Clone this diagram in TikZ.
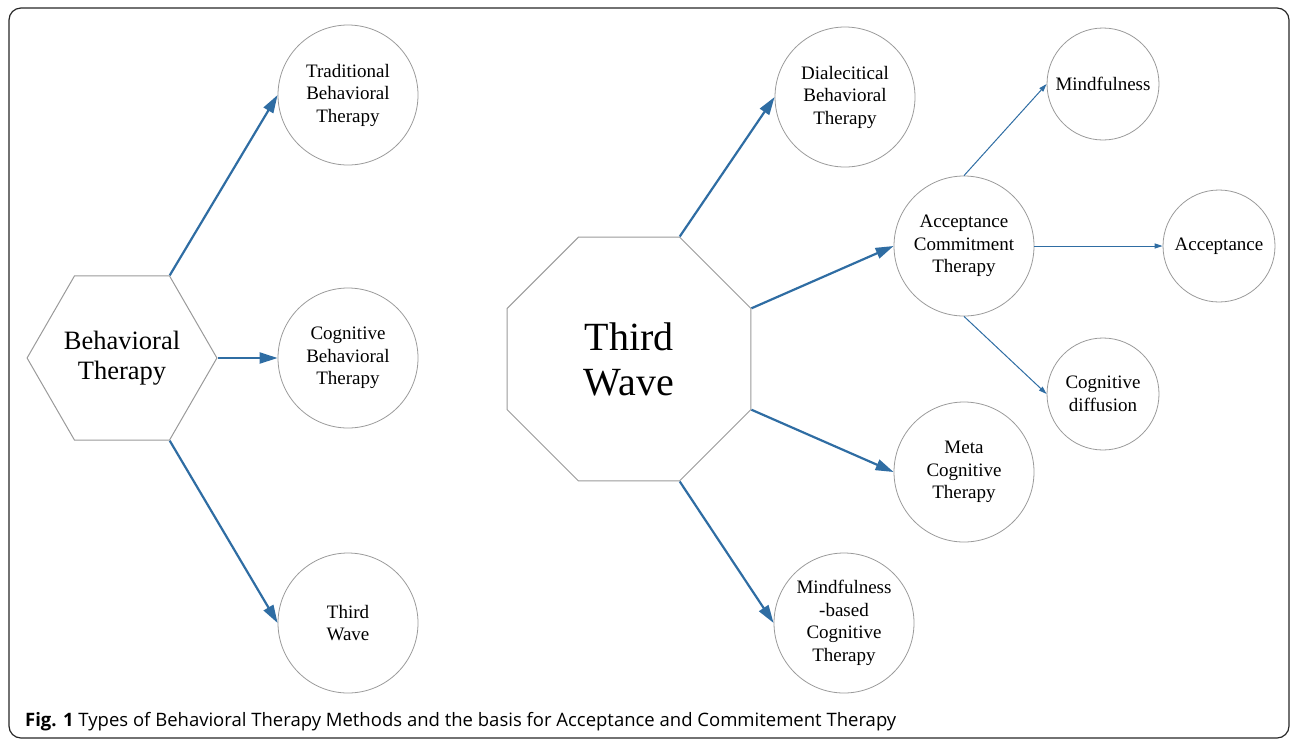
\documentclass[tikz,border=0pt]{standalone}
\usepackage{fontspec}
\setmainfont{Liberation Serif}
\newfontfamily\capfont{Open Sans}
\newfontfamily\shapefont{Liberation Serif}
\usetikzlibrary{shapes.geometric,arrows.meta}
\definecolor{arrblue}{HTML}{2F6DA3}
\definecolor{shapegray}{HTML}{9A9A9A}
\tikzset{
  bubble/.style={circle, draw=shapegray, line width=0.8pt, inner sep=0pt, align=center,
     font=\shapefont\fontsize{19}{22.5}\selectfont},
  bigbubble/.style={bubble, minimum size=140pt},
  smallbubble/.style={bubble, minimum size=112pt},
  thickarrow/.style={draw=arrblue, line width=2.2pt, -{Triangle[length=18pt,width=11pt]}},
  thinarrow/.style={draw=arrblue, line width=1pt, -{Triangle[length=8pt,width=5pt]}},
  poly/.style={regular polygon, draw=shapegray, line width=1pt, inner sep=0pt, align=center}
}
\begin{document}
\begin{tikzpicture}[x=1pt,y=-1pt]
\useasboundingbox (0,0) rectangle (1292,740);
% frame
\draw[line width=1.2pt, rounded corners=12pt, color=black!85] (9,8) rectangle (1289,738);
% left part
\node[poly, regular polygon sides=6, minimum size=184pt,
      font=\shapefont\fontsize{26.5}{30}\selectfont] (bt) at (122,358) {Behavioral\\Therapy};
\node[bigbubble] (tbt) at (348,95) {Traditional\\Behavioral\\Therapy};
\node[bigbubble] (cbt) at (348,358) {Cognitive\\Behavioral\\Therapy};
\node[bigbubble] (tw) at (348,623) {Third\\Wave};
\draw[thickarrow] (bt.corner 1) -- (tbt.west);
\draw[thickarrow] (bt.corner 6) -- (cbt.west);
\draw[thickarrow] (bt.corner 5) -- (tw.west);
% right part
\node[poly, regular polygon sides=8, minimum size=264pt,
      font=\shapefont\fontsize{40}{45}\selectfont] (tw2) at (629,359) {Third\\Wave};
\node[bigbubble] (dbt) at (845,97) {Dialecitical\\Behavioral\\Therapy};
\node[bigbubble] (act) at (964,246) {Acceptance\\Commitment\\Therapy};
\node[bigbubble] (mct) at (964,472) {Meta\\Cognitive\\Therapy};
\node[bigbubble] (mbct) at (844,623) {Mindfulness\\-based\\Cognitive\\Therapy};
\node[smallbubble] (mind) at (1103,84) {Mindfulness};
\node[smallbubble] (acc) at (1219,246) {Acceptance};
\node[smallbubble] (cd) at (1103,394) {Cognitive\\diffusion};
\draw[thickarrow] (tw2.corner 1) -- (dbt.west);
\draw[thickarrow] (tw2.corner 8) -- (act.west);
\draw[thickarrow] (tw2.corner 7) -- (mct.west);
\draw[thickarrow] (tw2.corner 6) -- (mbct.west);
\draw[thinarrow] (act.north) -- (mind.west);
\draw[thinarrow] (act.east) -- (acc.west);
\draw[thinarrow] (act.south) -- (cd.west);
% caption
\node[anchor=base west, inner sep=0pt, font=\capfont\fontsize{18.5}{20}\selectfont] (cap) at (25,726)
  {\textbf{Fig. 1} Types of Behavioral Therapy Methods and the basis for Acceptance and Commitement Therapy};
\end{tikzpicture}
\end{document}
